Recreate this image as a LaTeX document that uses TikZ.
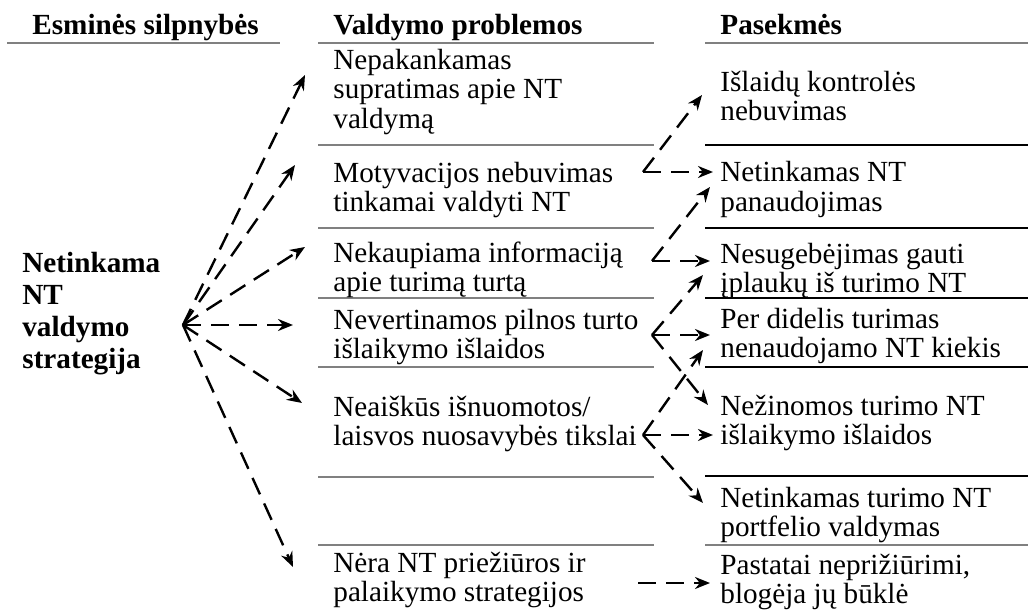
\documentclass[tikz,border=0pt]{standalone}
\usepackage{fontspec}
\setmainfont{Liberation Serif}
\usetikzlibrary{arrows.meta, positioning}
\definecolor{rulegray}{HTML}{808080}

\begin{document}
\begin{tikzpicture}[
    x=0.5pt, y=-0.5pt,
    font=\fontsize{14.6}{14.5}\selectfont,
    % 样式定义
    cell/.style={anchor=base west, inner sep=0pt, align=left},
    head/.style={cell, font=\fontsize{14.6}{16}\selectfont\bfseries},
    grayrule/.style={draw=rulegray, line width=1pt},
    blackrule/.style={draw=black, line width=1pt},
    arr/.style={-{Stealth[length=7.5pt, width=6pt]}, line width=1.2pt, dash pattern=on 9pt off 5pt}
]
    \useasboundingbox (0,0) rectangle (1028,610);

    % --- 表头 ---
    \node (hweak) [head] at (32,35) {Esminės silpnybės};
    \node (hprob) [head] at (333,35) {Valdymo problemos};
    \node (hcons) [head] at (720,35) {Pasekmės};

    % --- 表格线 ---
    \draw [grayrule] (7,43) -- (280,43);
    \foreach \y in {43,145,228,298,367,477,545}
        \draw [grayrule] (318,\y) -- (654,\y);
    \draw [grayrule] (705,43) -- (1028,43);
    \foreach \y in {145,228,298,367,476}
        \draw [blackrule] (705,\y) -- (1028,\y);
    \draw [grayrule] (705,545) -- (1028,545);

    % --- 左侧 ---
    \node (weak) [head] at (22,368) {Netinkama\\NT\\valdymo\\strategija};

    % --- 中间列 ---
    \node (prob1) [cell] at (333,128) {Nepakankamas\\supratimas apie NT\\valdymą};
    \node (prob2) [cell] at (333,212) {Motyvacijos nebuvimas\\tinkamai valdyti NT};
    \node (prob3) [cell] at (333,291) {Nekaupiama informaciją\\apie turimą turtą};
    \node (prob4) [cell] at (333,358) {Nevertinamos pilnos turto\\išlaikymo išlaidos};
    \node (prob5) [cell] at (333,445) {Neaiškūs išnuomotos/\\laisvos nuosavybės tikslai};
    \node (prob6) [cell] at (333,601) {Nėra NT priežiūros ir\\palaikymo strategijos};

    % --- 右侧列 ---
    \node (cons1) [cell] at (720,121) {Išlaidų kontrolės\\nebuvimas};
    \node (cons2) [cell] at (720,211) {Netinkamas NT\\panaudojimas};
    \node (cons3) [cell] at (720,292) {Nesugebėjimas gauti\\įplaukų iš turimo NT};
    \node (cons4) [cell] at (720,357) {Per didelis turimas\\nenaudojamo NT kiekis};
    \node (cons5) [cell] at (720,444) {Nežinomos turimo NT\\išlaikymo išlaidos};
    \node (cons6) [cell] at (720,536) {Netinkamas turimo NT\\portfelio valdymas};
    \node (cons7) [cell] at (720,603) {Pastatai neprižiūrimi,\\blogėja jų būklė};

    % 分叉点
    \coordinate (fan) at (183,325);
    \coordinate (br2) at (643,172);
    \coordinate (br3) at (652,261);
    \coordinate (br4) at (652,335);
    \coordinate (br5) at (643,435);
    \coordinate (br6) at (638,583);

    % --- 连线 ---
    \draw [arr] (fan) -- ([shift={(-28,-53)}]prob1.base west);
    \draw [arr] (fan) -- ([shift={(-38,-47)}]prob2.base west);
    \draw [arr] (fan) -- ([shift={(-28,-44)}]prob3.base west);
    \draw [arr] (fan) -- ([shift={(-40,-33)}]prob4.base west);
    \draw [arr] (fan) -- ([shift={(-31,-42)}]prob5.base west);
    \draw [arr] (fan) -- ([shift={(-40,-34)}]prob6.base west);

    \draw [arr] (br2) -- ([shift={(-18,-26)}]cons1.base west);
    \draw [arr] (br2) -- ([shift={(-7,-39)}]cons2.base west);
    \draw [arr] (br3) -- ([shift={(-10,-24)}]cons2.base west);
    \draw [arr] (br3) -- ([shift={(-10,-31)}]cons3.base west);
    \draw [arr] (br4) -- ([shift={(-17,-17)}]cons3.base west);
    \draw [arr] (br4) -- ([shift={(-10,-22)}]cons4.base west);
    \draw [arr] (br4) -- ([shift={(-12,-39)}]cons5.base west);
    \draw [arr] (br5) -- ([shift={(-17,-7)}]cons4.base west);
    \draw [arr] (br5) -- ([shift={(-7,-9)}]cons5.base west);
    \draw [arr] (br5) -- ([shift={(-17,-33)}]cons6.base west);
    \draw [arr] (br6) -- ([shift={(-10,-20)}]cons7.base west);

\end{tikzpicture}
\end{document}
